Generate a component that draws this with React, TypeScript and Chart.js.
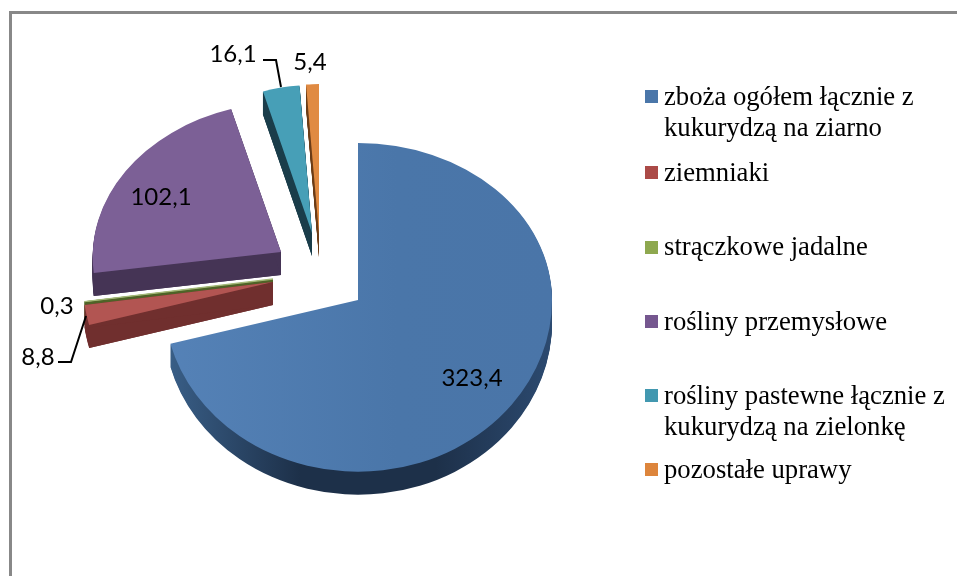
import React, { useEffect, useRef } from "react";
import { Chart, registerables } from "chart.js";

Chart.register(...registerables);

const categories = [
  "zboża ogółem łącznie z kukurydzą na ziarno",
  "ziemniaki",
  "strączkowe jadalne",
  "rośliny przemysłowe",
  "rośliny pastewne łącznie z kukurydzą na zielonkę",
  "pozostałe uprawy",
];
const values = [323.4, 8.8, 0.3, 102.1, 16.1, 5.4];
const topColors = ["#4c78ab", "#b25552", "#a3b878", "#7c6096", "#479fb7", "#e08a42"];
const sideColors = ["#1d3049", "#702f2e", "#4f6327", "#453455", "#1a3d4a", "#6b3c17"];
const swatchColors = ["#4a76a9", "#ab4a47", "#8ea84f", "#75578f", "#4298b0", "#dd853c"];
const legendLines = [
  ["zboża ogółem łącznie z", "kukurydzą na ziarno"],
  ["ziemniaki"],
  ["strączkowe jadalne"],
  ["rośliny przemysłowe"],
  ["rośliny pastewne łącznie z", "kukurydzą na zielonkę"],
  ["pozostałe uprawy"],
];

// 3D look of every slice: explosion shift and perspective squash
const explodeX = [0, -85, -85, -77, -46, -39];
const explodeY = [0, -18, -21, -48, -67, -66];
const squashX = [1, 0.98, 0.98, 0.97, 0.866, 0.9];
const squashUp = [0.809, 0.87, 0.87, 0.77, 0.763, 0.773];
const squashDown = [0.885, 0.87, 0.87, 0.825, 0.763, 0.773];
const shearX = [0, 0, 0, -0.035, 0, 0];
const drawOrder = [5, 4, 3, 2, 1, 0];
const DEPTH = 23;

// value label placement (text centre)
const labelX = [472, 38, 57, 161, 233, 310];
const labelY = [378, 357, 306, 197, 54, 62];
const leaderTeal = [[263, 60], [276, 60], [281, 87]];
const leaderRed = [[58, 362], [71, 362], [86, 316]];

const legendSwatchY = [90, 166, 241, 315, 389, 463];
const legendBaseY = [105, 181, 255, 330, 404, 478];
const LEGEND_LINE = 31;

const frameColor = "#888888";
const fmt = (v: number) => v.toFixed(1).replace(".", ",");

const pie3d = {
  id: "pie3d",
  beforeDraw(chart: any) {
    const { ctx, width, height } = chart;
    ctx.save();
    ctx.fillStyle = "#ffffff";
    ctx.fillRect(0, 0, width, height);
    ctx.fillStyle = frameColor;
    ctx.fillRect(9, 11, width - 9, 3);
    ctx.fillRect(9, 11, 3, height - 11);
    ctx.restore();
  },
  beforeDatasetsDraw(chart: any) {
    const { ctx, width, height } = chart;
    const arcs = chart.getDatasetMeta(0).data;

    const paint = (arc: any, i: number, dy: number, fill: any) => {
      const saved = arc.options;
      arc.options = { ...saved, backgroundColor: fill, borderWidth: 0 };
      const apexY = Math.round(arc.y + explodeY[i] + dy);
      [
        [0, apexY, squashUp[i]],
        [apexY, height - apexY, squashDown[i]],
      ].forEach(([top, h, sy]) => {
        ctx.save();
        ctx.beginPath();
        ctx.rect(0, top, width, h);
        ctx.clip();
        ctx.translate(arc.x + explodeX[i], apexY);
        ctx.transform(1, 0, shearX[i], 1, 0, 0);
        ctx.scale(squashX[i], sy);
        ctx.translate(-arc.x, -arc.y);
        arc.draw(ctx);
        ctx.restore();
      });
      arc.options = saved;
    };

    // screen position of the outer end of one straight slice edge
    const corner = (arc: any, i: number, angle: number) => {
      const s = Math.sin(angle);
      const y = s * arc.outerRadius * (s < 0 ? squashUp[i] : squashDown[i]);
      return [Math.cos(angle) * arc.outerRadius * squashX[i] + shearX[i] * y, y];
    };

    // the flat cut walls under the two straight edges
    const walls = (arc: any, i: number, fill: any) => {
      const ax = arc.x + explodeX[i];
      const ay = Math.round(arc.y + explodeY[i]);
      [arc.startAngle, arc.endAngle].forEach((a: number) => {
        const [cx, cy] = corner(arc, i, a);
        ctx.beginPath();
        ctx.moveTo(ax, ay);
        ctx.lineTo(ax + cx, ay + cy);
        ctx.lineTo(ax + cx, ay + cy + DEPTH);
        ctx.lineTo(ax, ay + DEPTH);
        ctx.closePath();
        ctx.fillStyle = fill;
        ctx.fill();
      });
    };

    drawOrder.forEach((i) => {
      const arc = arcs[i];
      let side: any = sideColors[i];
      let top: any = topColors[i];
      if (i === 0) {
        const r = arc.outerRadius;
        side = ctx.createLinearGradient(arc.x - r, 0, arc.x + r, 0);
        side.addColorStop(0, "#3a6089");
        side.addColorStop(0.35, "#1d3049");
        side.addColorStop(0.7, "#1d3049");
        side.addColorStop(1, "#2c4a70");
        top = ctx.createLinearGradient(arc.x - r, 0, arc.x + r, 0);
        top.addColorStop(0, "#5582b7");
        top.addColorStop(0.6, "#4a76a9");
        top.addColorStop(1, "#4a75a8");
      }
      for (let d = DEPTH; d >= 1; d--) paint(arc, i, d, side);
      if (i !== 0) walls(arc, i, side);
      paint(arc, i, 0, top);
      if (i === 2) {
        // the smallest slice is thinner than a pixel: keep its top face visible
        const [cx, cy] = corner(arc, i, (arc.startAngle + arc.endAngle) / 2);
        const ax = arc.x + explodeX[i];
        const ay = Math.round(arc.y + explodeY[i]);
        ctx.beginPath();
        ctx.moveTo(ax, ay);
        ctx.lineTo(ax + cx, ay + cy);
        ctx.strokeStyle = top;
        ctx.lineWidth = 1.3;
        ctx.stroke();
      }
    });
    return false;
  },
  afterDraw(chart: any) {
    const { ctx } = chart;
    ctx.save();

    ctx.strokeStyle = "#000000";
    ctx.lineWidth = 2;
    [leaderTeal, leaderRed].forEach((pts) => {
      ctx.beginPath();
      pts.forEach(([x, y], k) => (k ? ctx.lineTo(x, y) : ctx.moveTo(x, y)));
      ctx.stroke();
    });

    ctx.fillStyle = "#000000";
    ctx.font = "24px Lato";
    ctx.textAlign = "center";
    ctx.textBaseline = "middle";
    values.forEach((v, i) => ctx.fillText(fmt(v), labelX[i], labelY[i]));

    ctx.textAlign = "left";
    ctx.textBaseline = "alphabetic";
    ctx.font = "26.7px 'Liberation Serif'";
    legendLines.forEach((lines, i) => {
      ctx.fillStyle = swatchColors[i];
      ctx.fillRect(645, legendSwatchY[i], 13, 13);
      ctx.fillStyle = "#000000";
      lines.forEach((t, k) => ctx.fillText(t, 664, legendBaseY[i] + k * LEGEND_LINE));
    });
    ctx.restore();
  },
};

export default function App() {
  const ref = useRef<HTMLCanvasElement>(null);
  useEffect(() => {
    const chart = new Chart(ref.current as HTMLCanvasElement, {
      type: "pie",
      data: {
        labels: categories,
        datasets: [{ data: values, backgroundColor: topColors, borderWidth: 0 }],
      },
      options: {
        animation: false,
        responsive: false,
        layout: { padding: { top: 106, bottom: 82, left: 164, right: 405 } },
        plugins: { legend: { display: false }, tooltip: { enabled: false } },
      },
      plugins: [pie3d],
    } as any);
    return () => chart.destroy();
  }, []);
  return (
    <div style={{ position: "fixed", left: 0, top: 0 }}>
      <canvas ref={ref} width={957} height={576} style={{ display: "block" }} />
    </div>
  );
}
